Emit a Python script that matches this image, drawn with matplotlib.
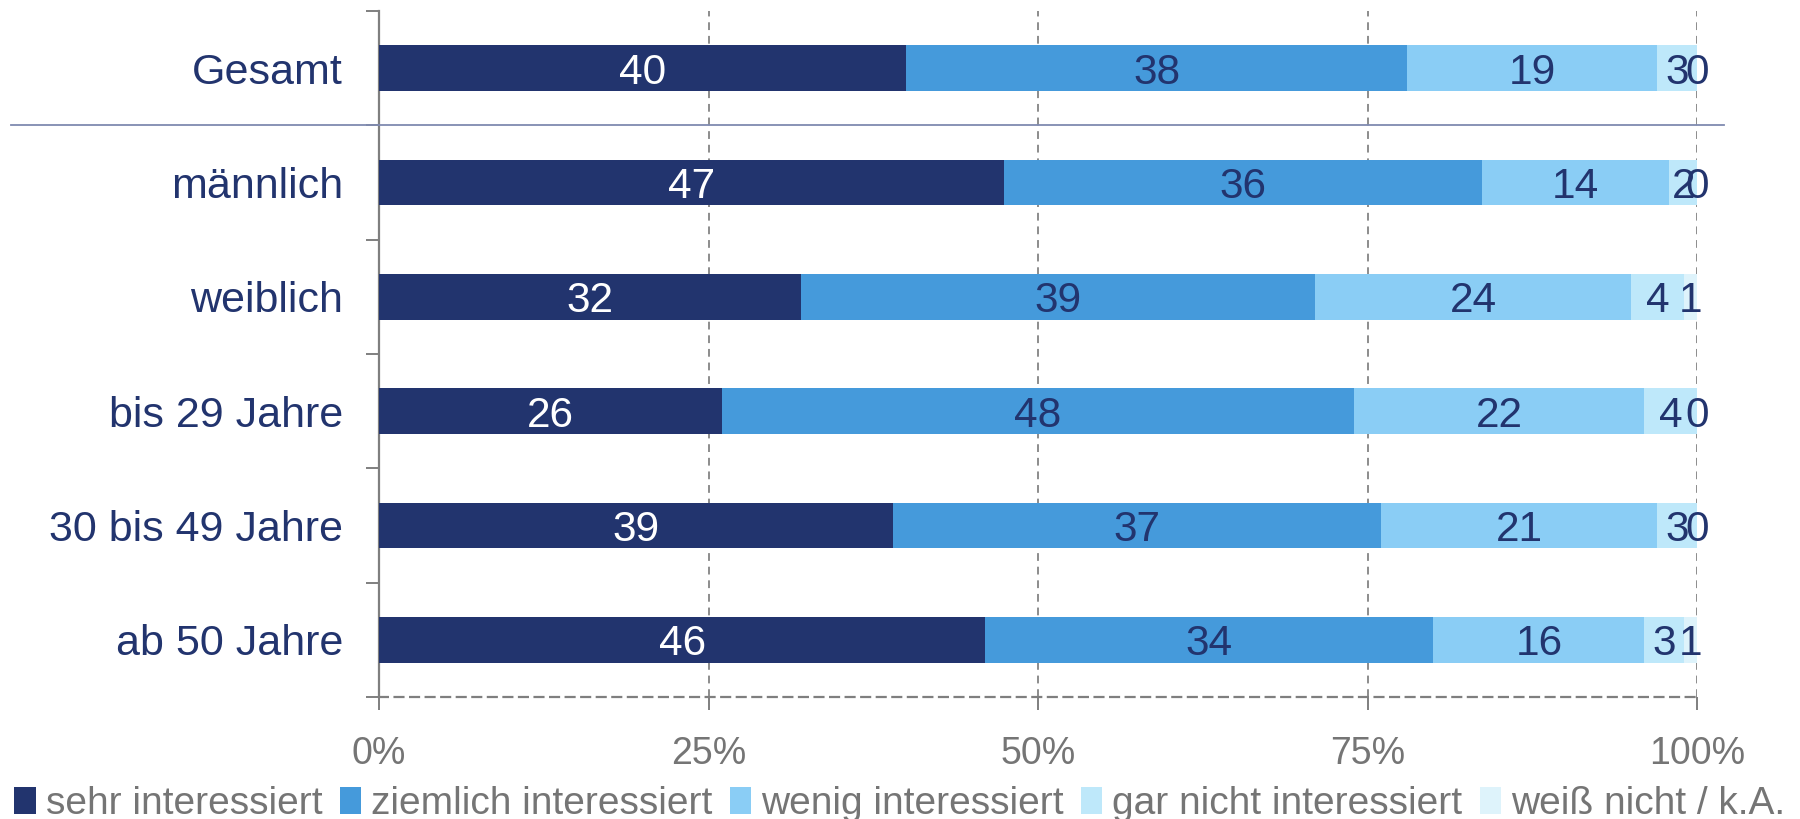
import matplotlib
matplotlib.use("Agg")
from matplotlib import pyplot as plt
from matplotlib.patches import Patch
from matplotlib.lines import Line2D

plt.rcParams["font.family"] = ["Liberation Sans", "DejaVu Sans"]

categories = ["Gesamt", "männlich", "weiblich", "bis 29 Jahre", "30 bis 49 Jahre", "ab 50 Jahre"]
series_names = [
    "sehr interessiert",
    "ziemlich interessiert",
    "wenig interessiert",
    "gar nicht interessiert",
    "weiß nicht / k.A.",
]
# one list per answer, in category order
sehr = [40, 47.4, 32, 26, 39, 46]
ziemlich = [38, 36.3, 39, 48, 37, 34]
wenig = [19, 14.2, 24, 22, 21, 16]
gar_nicht = [3, 2.1, 4, 4, 3, 3]
weiss_nicht = [0, 0, 1, 0, 0, 1]
x_ticks = [0, 25, 50, 75, 100]
x_tick_labels = ["0%", "25%", "50%", "75%", "100%"]

NAVY = "#22346E"
GRAY = "#7F7F7F"
colours = [NAVY, "#459ADB", "#8ACDF5", "#BEE8FA", "#DEF3FB"]
label_colours = ["white", NAVY, NAVY, NAVY, NAVY]

fig = plt.figure(figsize=(18, 8.19), dpi=100)
ax = fig.add_axes([379 / 1800, 1 - 697 / 819, (1697 - 379) / 1800, (697 - 11) / 819])

series = [sehr, ziemlich, wenig, gar_nicht, weiss_nicht]
ypos = list(range(len(categories)))
left = [0.0] * len(categories)
for vals, col, lcol in zip(series, colours, label_colours):
    ax.barh(ypos, vals, left=left, height=0.4, color=col, zorder=3)
    for y, l, v in zip(ypos, left, vals):
        ax.text(l + v / 2, y, f"{v:.0f}", ha="center", va="center_baseline",
                color=lcol, fontsize=30.5, zorder=4)
    left = [l + v for l, v in zip(left, vals)]

ax.set_xlim(0, 100)
ax.set_ylim(5.5, -0.5)

ax.set_yticks(ypos, labels=categories)
ax.set_yticks([i - 0.5 for i in range(len(categories) + 1)], minor=True)
ax.tick_params(axis="y", which="major", length=0, pad=26, labelsize=31, labelcolor=NAVY)
ax.tick_params(axis="y", which="minor", length=9.4, width=1.4, color=GRAY)

ax.set_xticks(x_ticks, labels=x_tick_labels)
ax.tick_params(axis="x", length=9.4, width=1.4, color=GRAY, pad=19,
               labelsize=27, labelcolor="#757575")

ax.grid(axis="x", color="#8C8C8C", linestyle=(0, (4, 3)), linewidth=1.4, zorder=0)
ax.set_axisbelow(True)
for side in ("top", "right"):
    ax.spines[side].set_visible(False)
ax.spines["left"].set_color(GRAY)
ax.spines["left"].set_linewidth(1.6)
ax.spines["bottom"].set_color(GRAY)
ax.spines["bottom"].set_linewidth(1.6)
ax.spines["bottom"].set_linestyle((0, (4, 3)))

# separator under "Gesamt" (x in axes coords, y in data)
ax.add_line(Line2D([-0.279, 1.0205], [0.5, 0.5], transform=ax.get_yaxis_transform(),
                   color="#7F8AB0", linewidth=1.3, clip_on=False, zorder=5))

handles = [Patch(facecolor=c, edgecolor="none") for c in colours]
fig.legend(handles, series_names, loc="lower left", bbox_to_anchor=(0.008, -0.004),
           ncol=5, frameon=False, fontsize=28, labelcolor="#757575",
           handlelength=0.55, handleheight=0.7, handletextpad=0.25,
           columnspacing=0.45, borderpad=0, borderaxespad=0)

fig.savefig("out.png", dpi=100)
